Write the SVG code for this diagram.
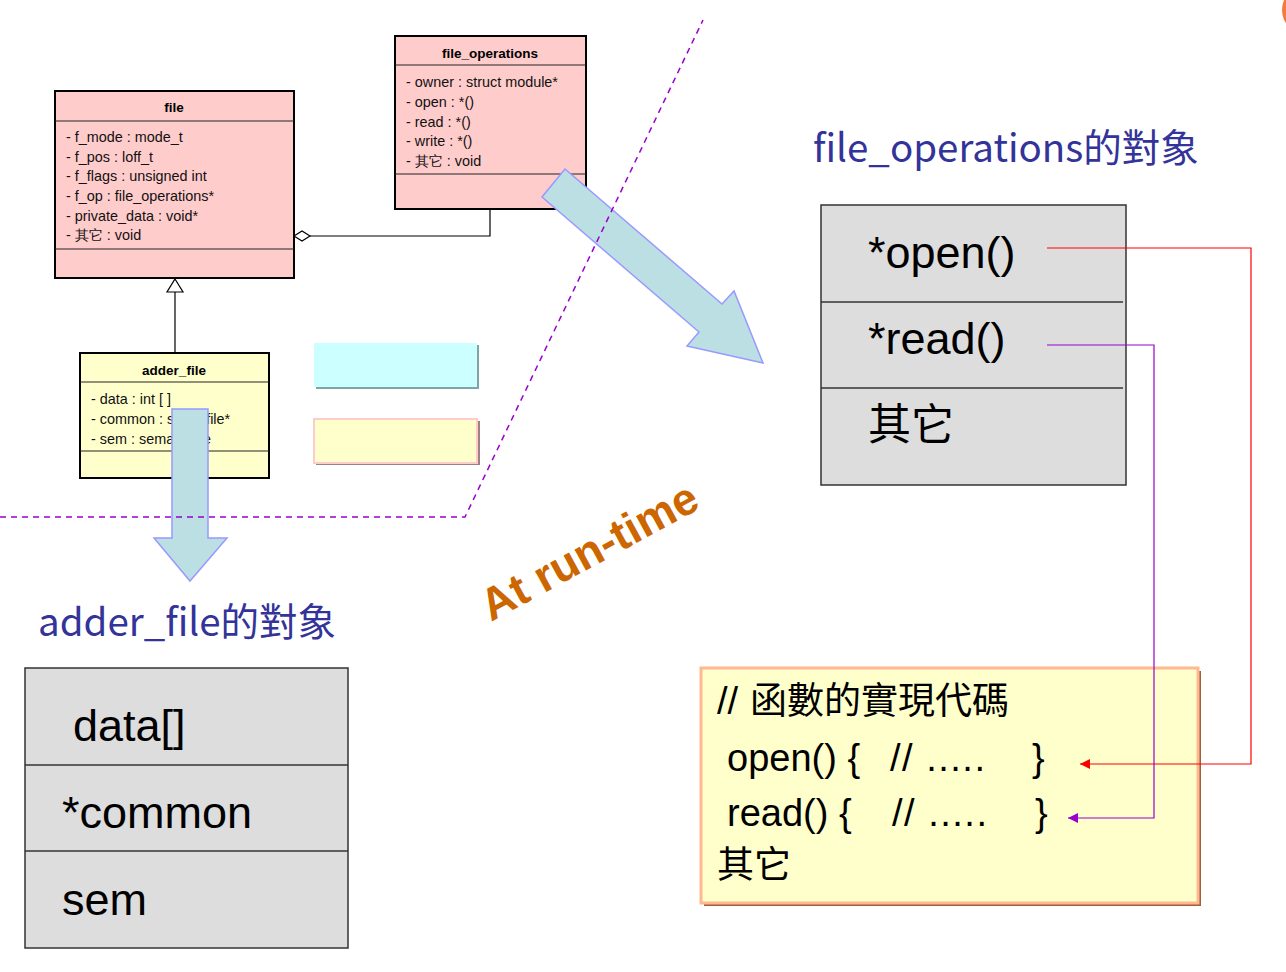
<svg xmlns="http://www.w3.org/2000/svg" width="1286" height="972" viewBox="0 0 1286 972">
<style>
.uml{stroke:#000;stroke-width:2}
.pink{fill:#FFCCCC}
.yel{fill:#FFFFCC}
.sep{stroke:#222;stroke-width:1}
.ttl{font-family:"Liberation Sans",Arial,sans-serif;font-size:13.5px;font-weight:bold;fill:#000;text-anchor:middle}
.att{font-family:"Liberation Sans",Arial,sans-serif;font-size:14.4px;fill:#111}
.obj{fill:#DDDDDD;stroke:#333;stroke-width:1.5}
.osep{stroke:#333;stroke-width:1.5}
.big{font-family:"Liberation Sans",Arial,sans-serif;font-size:45px;fill:#000}
.cjk{font-family:"Noto Sans CJK TC","Noto Sans CJK SC",sans-serif;fill:#000}
.head{font-family:"Noto Sans CJK TC","Noto Sans",sans-serif;font-size:38.5px;fill:#333399}
.code{font-family:"Liberation Sans",Arial,"Noto Sans CJK TC",sans-serif;font-size:38px;fill:#000}
.barrow{fill:#BBDFE2;stroke:#9999FF;stroke-width:1.5;stroke-linejoin:miter}
.dash{fill:none;stroke:#9900CC;stroke-width:1.5;stroke-dasharray:6 5}
</style>
<defs>
<marker id="ahRed" viewBox="0 0 10 10" refX="10" refY="5" markerWidth="12" markerHeight="10" markerUnits="userSpaceOnUse" orient="auto">
<path d="M0,0 L10,5 L0,10 z" fill="#FF0000"/>
</marker>
<marker id="ahPur" viewBox="0 0 10 10" refX="10" refY="5" markerWidth="12" markerHeight="10" markerUnits="userSpaceOnUse" orient="auto">
<path d="M0,0 L10,5 L0,10 z" fill="#9900CC"/>
</marker>
</defs>
<rect width="1286" height="972" fill="#FFFFFF"/>
<circle cx="1306" cy="10" r="24" fill="#F47A3E"/>

<g id="node-file">
<rect x="55" y="91" width="239" height="187" class="uml pink"/>
<line x1="55" y1="121" x2="294" y2="121" class="sep"/>
<line x1="55" y1="249" x2="294" y2="249" class="sep"/>
<text x="174" y="112" class="ttl">file</text>
<text class="att"><tspan x="66" y="142">- f_mode : mode_t</tspan><tspan x="66" y="162">- f_pos : loff_t</tspan><tspan x="66" y="181">- f_flags : unsigned int</tspan><tspan x="66" y="201">- f_op : file_operations*</tspan><tspan x="66" y="221">- private_data : void*</tspan><tspan x="66" y="240">- 其它 : void</tspan></text>
</g>

<g id="node-file-operations">
<rect x="395" y="36" width="191" height="173" class="uml pink"/>
<line x1="395" y1="65" x2="586" y2="65" class="sep"/>
<line x1="395" y1="174" x2="586" y2="174" class="sep"/>
<text x="490" y="58" class="ttl">file_operations</text>
<text class="att"><tspan x="406" y="87">- owner : struct module*</tspan><tspan x="406" y="107">- open : *()</tspan><tspan x="406" y="127">- read : *()</tspan><tspan x="406" y="146">- write : *()</tspan><tspan x="406" y="166">- 其它 : void</tspan></text>
</g>

<g id="node-adder-file">
<rect x="80" y="353" width="189" height="125" class="uml yel"/>
<line x1="80" y1="382" x2="269" y2="382" class="sep"/>
<line x1="80" y1="451" x2="269" y2="451" class="sep"/>
<text x="174" y="375" class="ttl">adder_file</text>
<text class="att"><tspan x="91" y="404">- data : int [ ]</tspan><tspan x="91" y="424">- common : struct file*</tspan><tspan x="91" y="444">- sem : semaphore</tspan></text>
</g>

<g id="node-cyan">
<rect x="316" y="345" width="163" height="44" fill="#7FA5A5"/>
<rect x="314" y="343" width="163" height="44" fill="#CCFFFF"/>
</g>
<g id="node-yellow">
<rect x="316" y="421" width="164" height="44" fill="#A08080"/>
<rect x="314" y="419" width="163" height="44" fill="#FFFFCC" stroke="#FFCCCC" stroke-width="2"/>
</g>

<g id="connectors">
<polyline points="310,236 490,236 490,209" fill="none" stroke="#000" stroke-width="1.2"/>
<polygon points="294,236 302,231 310,236 302,241" fill="#FFFFFF" stroke="#000" stroke-width="1.2"/>
<line x1="175" y1="292" x2="175" y2="353" stroke="#000" stroke-width="1.2"/>
<polygon points="175,279 183,292 167,292" fill="#FFFFFF" stroke="#000" stroke-width="1.2"/>
</g>

<g id="arrow-down">
<polygon points="172,409 208,409 208,538 227,538 190,581 154,538 172,538" class="barrow"/>
</g>
<g id="arrow-diag">
<polygon points="565,169 722,304 734,291 763,363 687,346 699,332 542,197" class="barrow"/>
</g>

<polyline id="runtime-boundary" points="0,517 465,517 703,20" class="dash"/>

<text x="0" y="0" transform="translate(491,622) rotate(-28.5)" font-family="'Liberation Sans',Arial,sans-serif" font-size="45" font-weight="bold" fill="#CC6600">At run-time</text>

<text x="813" y="162" class="head">file_operations的對象</text>
<text x="38" y="636" class="head">adder_file的對象</text>

<g id="node-fo-object">
<rect x="821" y="205" width="305" height="280" class="obj"/>
<line x1="821" y1="302" x2="1123" y2="302" class="osep"/>
<line x1="821" y1="388" x2="1123" y2="388" class="osep"/>
<text x="868" y="268" class="big">*open()</text>
<text x="868" y="354" class="big">*read()</text>
<text x="868" y="440" class="cjk" font-size="43">其它</text>
</g>

<g id="node-af-object">
<rect x="25" y="668" width="323" height="280" class="obj"/>
<line x1="25" y1="765" x2="348" y2="765" class="osep"/>
<line x1="25" y1="851" x2="348" y2="851" class="osep"/>
<text x="73" y="741" class="big" font-size="44">data[]</text>
<text x="62" y="828" class="big" font-size="44">*common</text>
<text x="62" y="915" class="big" font-size="44">sem</text>
</g>

<g id="node-code">
<rect x="704" y="671" width="497" height="235" fill="#A0603A"/>
<rect x="701" y="668" width="497" height="235" fill="#FFFFCC" stroke="#FFB890" stroke-width="3"/>
<text x="717" y="714" class="code">//<tspan class="cjk" font-size="37" x="750">函數的實現代碼</tspan></text>
<text y="771" class="code"><tspan x="727">open() {</tspan><tspan x="890" letter-spacing="1.5">// .....</tspan><tspan x="1032">}</tspan></text>
<text y="826" class="code"><tspan x="727">read() {</tspan><tspan x="892" letter-spacing="1.5">// .....</tspan><tspan x="1035">}</tspan></text>
<text x="717" y="878" class="cjk" font-size="37">其它</text>
</g>

<g id="links">
<polyline points="1047,248 1251,248 1251,764 1080,764" fill="none" stroke="#FF0000" stroke-width="1.2" marker-end="url(#ahRed)"/>
<polyline points="1047,345 1154,345 1154,818 1068,818" fill="none" stroke="#9900CC" stroke-width="1.2" marker-end="url(#ahPur)"/>
</g>
</svg>
